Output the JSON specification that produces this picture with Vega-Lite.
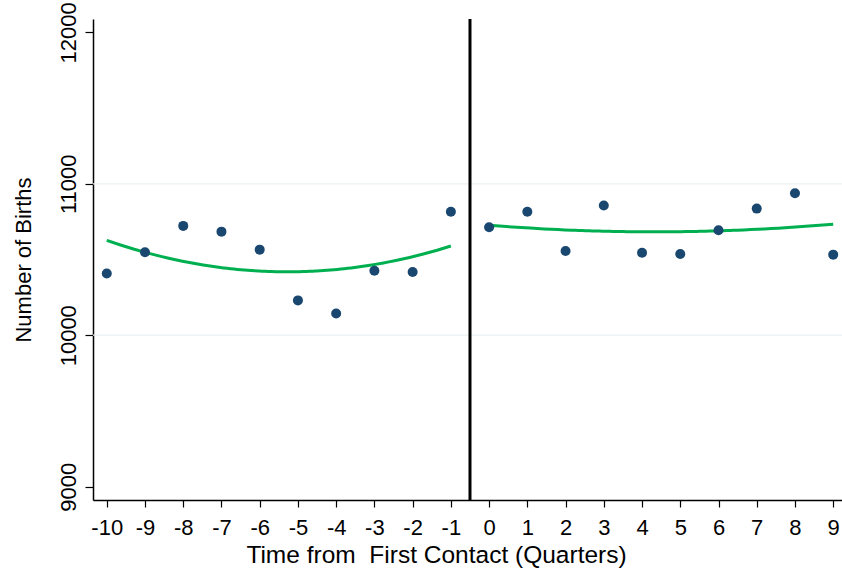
{
  "$schema": "https://vega.github.io/schema/vega-lite/v6.json",
  "width": 749,
  "height": 481,
  "autosize": {"type": "none"},
  "padding": {"left": 93, "top": 19, "right": 0, "bottom": 74},
  "background": "white",
  "config": {"view": {"stroke": null}, "font": "Liberation Sans"},
  "datasets": {
    "births": [
      {"quarter": -10, "births": 10408, "side": "pre"},
      {"quarter": -9, "births": 10548, "side": "pre"},
      {"quarter": -8, "births": 10722, "side": "pre"},
      {"quarter": -7, "births": 10684, "side": "pre"},
      {"quarter": -6, "births": 10565, "side": "pre"},
      {"quarter": -5, "births": 10230, "side": "pre"},
      {"quarter": -4, "births": 10144, "side": "pre"},
      {"quarter": -3, "births": 10426, "side": "pre"},
      {"quarter": -2, "births": 10417, "side": "pre"},
      {"quarter": -1, "births": 10815, "side": "pre"},
      {"quarter": 0, "births": 10713, "side": "post"},
      {"quarter": 1, "births": 10815, "side": "post"},
      {"quarter": 2, "births": 10556, "side": "post"},
      {"quarter": 3, "births": 10856, "side": "post"},
      {"quarter": 4, "births": 10545, "side": "post"},
      {"quarter": 5, "births": 10536, "side": "post"},
      {"quarter": 6, "births": 10693, "side": "post"},
      {"quarter": 7, "births": 10836, "side": "post"},
      {"quarter": 8, "births": 10938, "side": "post"},
      {"quarter": 9, "births": 10532, "side": "post"}
    ],
    "grid": [{"births": 10000}, {"births": 11000}],
    "cut": [{"quarter": -0.5}]
  },
  "layer": [
    {
      "data": {"name": "grid"},
      "mark": {"type": "rule", "color": "#eaf2f3", "strokeWidth": 1.2},
      "encoding": {
        "y": {
          "field": "births", "type": "quantitative",
          "scale": {"domain": [8912, 12088], "nice": false, "zero": false},
          "axis": {
            "title": "Number of Births", "values": [9000, 10000, 11000, 12000], "format": "d",
            "grid": false, "domainColor": "black", "domainWidth": 1.5,
            "tickColor": "black", "tickSize": 8, "tickWidth": 1.2,
            "labelAngle": -90, "labelAlign": "center", "labelBaseline": "alphabetic",
            "labelPadding": 10, "labelFontSize": 22, "labelColor": "black",
            "labelFlush": false, "labelOverlap": false,
            "titleFontSize": 22, "titleFontWeight": "normal", "titleColor": "black",
            "titleX": -63, "titleY": 240.5, "titleAngle": -90, "titleAlign": "center", "titleBaseline": "alphabetic"
          }
        }
      }
    },
    {
      "data": {"name": "cut"},
      "mark": {"type": "rule", "color": "black", "strokeWidth": 3},
      "encoding": {
        "x": {
          "field": "quarter", "type": "quantitative",
          "scale": {"domain": [-10.36, 9.23], "nice": false, "zero": false},
          "axis": {
            "title": "Time from\u00a0 First Contact (Quarters)",
            "values": [-10, -9, -8, -7, -6, -5, -4, -3, -2, -1, 0, 1, 2, 3, 4, 5, 6, 7, 8, 9],
            "labelExpr": "datum.value + ''",
            "grid": false, "domainColor": "black", "domainWidth": 1.5,
            "tickColor": "black", "tickSize": 7, "tickWidth": 1.2,
            "labelFontSize": 22, "labelColor": "black", "labelPadding": 10, "labelBaseline": "top",
            "labelFlush": false, "labelOverlap": false,
            "titleFontSize": 24.5, "titleFontWeight": "normal", "titleColor": "black",
            "titleX": 343, "titleY": 62, "titleAlign": "center", "titleBaseline": "alphabetic"
          }
        }
      }
    },
    {
      "data": {"name": "births"},
      "transform": [
        {"regression": "births", "on": "quarter", "method": "poly", "order": 2, "groupby": ["side"]}
      ],
      "mark": {"type": "line", "color": "#00b050", "strokeWidth": 3},
      "encoding": {
        "x": {
          "field": "quarter", "type": "quantitative",
          "axis": {
            "title": "Time from\u00a0 First Contact (Quarters)",
            "values": [-10, -9, -8, -7, -6, -5, -4, -3, -2, -1, 0, 1, 2, 3, 4, 5, 6, 7, 8, 9],
            "labelExpr": "datum.value + ''",
            "grid": false, "domainColor": "black", "domainWidth": 1.5,
            "tickColor": "black", "tickSize": 7, "tickWidth": 1.2,
            "labelFontSize": 22, "labelColor": "black", "labelPadding": 10, "labelBaseline": "top",
            "labelFlush": false, "labelOverlap": false,
            "titleFontSize": 24.5, "titleFontWeight": "normal", "titleColor": "black",
            "titleX": 343, "titleY": 62, "titleAlign": "center", "titleBaseline": "alphabetic"
          }
        },
        "y": {
          "field": "births", "type": "quantitative",
          "axis": {
            "title": "Number of Births", "values": [9000, 10000, 11000, 12000], "format": "d",
            "grid": false, "domainColor": "black", "domainWidth": 1.5,
            "tickColor": "black", "tickSize": 8, "tickWidth": 1.2,
            "labelAngle": -90, "labelAlign": "center", "labelBaseline": "alphabetic",
            "labelPadding": 10, "labelFontSize": 22, "labelColor": "black",
            "labelFlush": false, "labelOverlap": false,
            "titleFontSize": 22, "titleFontWeight": "normal", "titleColor": "black",
            "titleX": -63, "titleY": 240.5, "titleAngle": -90, "titleAlign": "center", "titleBaseline": "alphabetic"
          }
        },
        "detail": {"field": "side"}
      }
    },
    {
      "data": {"name": "births"},
      "mark": {"type": "point", "filled": true, "color": "#1a476f", "size": 100, "opacity": 1},
      "encoding": {
        "x": {
          "field": "quarter", "type": "quantitative",
          "axis": {
            "title": "Time from\u00a0 First Contact (Quarters)",
            "values": [-10, -9, -8, -7, -6, -5, -4, -3, -2, -1, 0, 1, 2, 3, 4, 5, 6, 7, 8, 9],
            "labelExpr": "datum.value + ''",
            "grid": false, "domainColor": "black", "domainWidth": 1.5,
            "tickColor": "black", "tickSize": 7, "tickWidth": 1.2,
            "labelFontSize": 22, "labelColor": "black", "labelPadding": 10, "labelBaseline": "top",
            "labelFlush": false, "labelOverlap": false,
            "titleFontSize": 24.5, "titleFontWeight": "normal", "titleColor": "black",
            "titleX": 343, "titleY": 62, "titleAlign": "center", "titleBaseline": "alphabetic"
          }
        },
        "y": {
          "field": "births", "type": "quantitative",
          "axis": {
            "title": "Number of Births", "values": [9000, 10000, 11000, 12000], "format": "d",
            "grid": false, "domainColor": "black", "domainWidth": 1.5,
            "tickColor": "black", "tickSize": 8, "tickWidth": 1.2,
            "labelAngle": -90, "labelAlign": "center", "labelBaseline": "alphabetic",
            "labelPadding": 10, "labelFontSize": 22, "labelColor": "black",
            "labelFlush": false, "labelOverlap": false,
            "titleFontSize": 22, "titleFontWeight": "normal", "titleColor": "black",
            "titleX": -63, "titleY": 240.5, "titleAngle": -90, "titleAlign": "center", "titleBaseline": "alphabetic"
          }
        }
      }
    }
  ]
}
